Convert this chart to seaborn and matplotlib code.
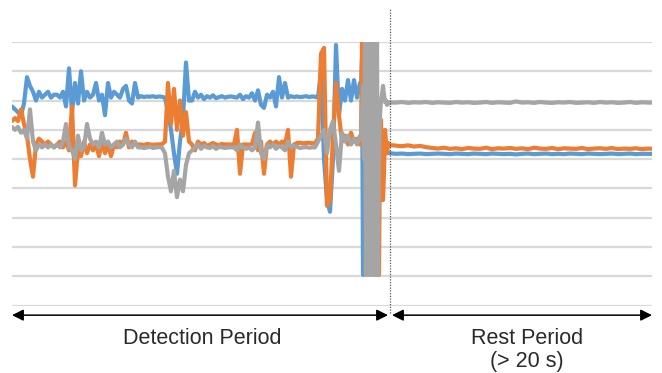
import numpy as np
import pandas as pd
import matplotlib
matplotlib.use("Agg")
import matplotlib.pyplot as plt
import seaborn as sns

# time axis (arbitrary sample units), detection period is sampled coarser than the burst
t_detect = np.arange(12, 361, 3)
t_burst = np.arange(361, 391, 1)
t_rest = np.arange(396, 655, 6)

# readings in grid units (gridlines at 0..9)
blue_detect = [
    6.8, 6.7, 6.6, 6.5, 6.9, 7.8, 7.5, 7.3, 7.0, 7.3,
    7.1, 7.2, 7.3, 7.1, 7.2, 7.2, 7.1, 7.3, 6.8, 8.1,
    6.6, 7.6, 6.9, 8.0, 7.0, 7.3, 7.1, 7.2, 7.6, 7.0,
    7.2, 6.5, 7.6, 7.1, 7.3, 7.2, 7.1, 7.4, 7.5, 7.0,
    6.9, 7.6, 7.1, 7.15, 7.12, 7.14, 7.13, 7.15, 7.12, 7.14,
    7.13, 7.1, 6.6, 6.0, 5.2, 4.5, 5.6, 6.4, 8.3, 7.0,
    7.0, 7.3, 7.1, 7.2, 7.05, 7.15, 7.1, 7.18, 7.08, 7.12,
    7.15, 7.1, 7.13, 7.14, 7.12, 7.1, 7.2, 7.05, 7.15, 7.1,
    7.25, 7.0, 7.35, 6.85, 6.75, 7.2, 7.1, 7.3, 6.8, 7.8,
    7.1, 7.6, 7.1, 7.15, 7.12, 7.14, 7.12, 7.13, 7.15, 7.12,
    7.14, 7.13, 7.1, 8.0, 5.0, 3.6, 3.2, 5.0, 8.9, 6.5,
    7.4, 7.0, 7.7, 7.0, 7.7, 7.1, 7.6,
]
orange_detect = [
    6.3, 6.4, 6.3, 6.7, 6.2, 5.8, 5.0, 4.4, 5.5, 5.7,
    5.6, 5.5, 5.6, 5.5, 5.4, 5.5, 5.6, 5.4, 5.6, 5.3,
    6.8, 4.1, 5.3, 5.1, 5.6, 5.2, 5.5, 5.3, 5.5, 5.1,
    5.6, 5.2, 5.5, 5.1, 5.5, 5.4, 5.6, 5.5, 5.9, 5.4,
    5.6, 5.5, 5.5, 5.5, 5.48, 5.52, 5.5, 5.49, 5.5, 5.5,
    5.51, 5.6, 7.6, 6.2, 7.4, 6.0, 7.0, 5.8, 6.6, 5.6,
    5.5, 5.3, 5.6, 5.5, 5.55, 5.45, 5.5, 5.55, 5.5, 5.48,
    5.52, 5.5, 5.5, 5.5, 5.5, 6.0, 4.5, 5.5, 5.5, 5.5,
    5.5, 5.9, 5.3, 5.6, 4.5, 5.5, 5.6, 5.5, 5.6, 5.5,
    5.6, 5.5, 6.0, 4.4, 5.5, 5.55, 5.56, 5.54, 5.55, 5.56,
    5.54, 5.55, 5.7, 8.6, 8.8, 3.4, 3.6, 5.8, 7.6, 6.5,
    5.6, 5.8, 5.5, 5.9, 5.6, 5.7, 5.5,
]
gray_detect = [
    6.1, 6.0, 6.1, 5.9, 6.0, 5.7, 6.7, 5.6, 5.3, 5.5,
    5.4, 5.5, 5.4, 5.5, 5.4, 5.5, 5.4, 5.6, 6.2, 5.4,
    5.3, 5.0, 5.8, 5.3, 5.4, 6.2, 5.7, 5.5, 5.6, 5.4,
    5.9, 5.5, 5.6, 5.4, 5.5, 5.6, 5.4, 5.5, 5.7, 5.5,
    5.4, 5.6, 5.4, 5.4, 5.38, 5.4, 5.42, 5.38, 5.4, 5.41,
    5.39, 5.2, 4.4, 3.9, 4.6, 3.7, 4.3, 3.9, 4.8, 5.2,
    5.3, 5.4, 5.5, 5.35, 5.45, 5.4, 5.38, 5.45, 5.35, 5.42,
    5.4, 5.38, 5.4, 5.4, 5.4, 5.3, 5.5, 5.4, 5.35, 5.4,
    5.3, 5.4, 6.25, 5.2, 5.0, 5.5, 5.4, 5.5, 5.35, 5.45,
    5.4, 5.3, 5.6, 5.4, 5.45, 5.42, 5.38, 5.4, 5.41, 5.39,
    5.4, 5.4, 5.6, 5.8, 6.0, 5.2, 6.0, 6.3, 5.5, 4.6,
    5.9, 5.6, 5.8, 5.5, 5.7, 5.5, 5.8,
]

blue_burst = [
    7.5, 8.4, 1.05, 1.05, 6.0, 7.0, 5.5, 6.5, 6.0, 7.0,
    5.5, 6.5, 6.0, 6.5, 5.5, 6.0, 5.8, 5.6, 5.5, 5.5,
    5.4, 5.4, 5.3, 5.2, 5.25, 5.3, 5.25, 5.2, 5.22, 5.2,
]
orange_burst = [
    5.6, 9.0, 9.0, 8.0, 6.0, 7.0, 5.0, 6.0, 4.0, 6.5,
    3.0, 5.0, 2.0, 4.0, 1.05, 1.05, 3.0, 1.05, 1.05, 5.5,
    6.34, 4.5, 3.6, 4.5, 6.0, 5.6, 5.2, 5.55, 5.45, 5.48,
]
gray_burst = [
    5.7, 6.5, 7.5, 5.0, 9.0, 1.05, 9.0, 1.05, 9.0, 1.05,
    9.0, 1.05, 9.0, 1.05, 9.0, 1.05, 9.0, 1.05, 5.0, 6.5,
    7.0, 7.2, 7.5, 7.2, 6.95, 7.0, 6.85, 6.95, 6.9, 6.93,
]

blue_rest = [
    5.18, 5.19, 5.17, 5.18, 5.19, 5.17, 5.18, 5.19, 5.18, 5.17,
    5.19, 5.18, 5.17, 5.19, 5.18, 5.17, 5.19, 5.18, 5.17, 5.18,
    5.16, 5.18, 5.19, 5.17, 5.18, 5.19, 5.17, 5.18, 5.17, 5.19,
    5.18, 5.17, 5.19, 5.18, 5.17, 5.18, 5.19, 5.17, 5.18, 5.19,
    5.17, 5.18, 5.18, 5.18,
]
orange_rest = [
    5.46, 5.44, 5.47, 5.43, 5.45, 5.41, 5.38, 5.36, 5.39, 5.35,
    5.37, 5.34, 5.38, 5.36, 5.35, 5.39, 5.34, 5.37, 5.36, 5.38,
    5.35, 5.37, 5.34, 5.39, 5.36, 5.35, 5.38, 5.34, 5.37, 5.36,
    5.35, 5.38, 5.34, 5.36, 5.37, 5.35, 5.38, 5.34, 5.36, 5.35,
    5.37, 5.34, 5.36, 5.35,
]
gray_rest = [
    6.93, 6.95, 6.92, 6.94, 6.93, 6.95, 6.92, 6.94, 6.93, 6.92,
    6.95, 6.93, 6.94, 6.92, 6.93, 6.95, 6.92, 6.94, 6.93, 6.92,
    6.97, 6.93, 6.94, 6.92, 6.95, 6.93, 6.92, 6.94, 6.93, 6.95,
    6.92, 6.93, 6.94, 6.92, 6.95, 6.93, 6.94, 6.92, 6.93, 6.95,
    6.92, 6.94, 6.93, 6.93,
]

series_names = ["s1", "s2", "s3"]
colors = ["#5B9BD5", "#ED7D31", "#A5A5A5"]

t_all = np.concatenate([t_detect, t_burst, t_rest])
frames = []
for name, d, b, r in zip(series_names,
                         [blue_detect, orange_detect, gray_detect],
                         [blue_burst, orange_burst, gray_burst],
                         [blue_rest, orange_rest, gray_rest]):
    vals = list(d) + list(b) + list(r)
    frames.append(pd.DataFrame({"t": t_all, "value": vals, "series": name}))
df = pd.concat(frames, ignore_index=True)

sns.set_style("white")
plt.rcParams['font.family'] = ['Liberation Sans', 'DejaVu Sans']

fig = plt.figure(figsize=(6.62, 3.73), dpi=100)
ax = fig.add_axes([12 / 662, 1 - 305.5 / 373, 640 / 662, 263.5 / 373])

# gridlines
for g in range(10):
    ax.axhline(g, color="#d9d9d9", lw=1.6, zorder=0)

sns.lineplot(data=df, x="t", y="value", hue="series", palette=colors,
             hue_order=series_names, sort=False, estimator=None,
             lw=3.0, legend=False, ax=ax)

ax.set_xlim(12, 652)
ax.set_ylim(0, 9)
ax.set_xticks([])
ax.set_yticks([])
ax.set_xlabel("")
ax.set_ylabel("")
for s in ax.spines.values():
    s.set_visible(False)

# boundary between periods
ax.plot([390, 390], [-0.27, 10.17], ls=(0, (1, 1.2)), color="#555555",
        lw=0.9, clip_on=False, zorder=5)

# period arrows
arrow_y = -0.33
for x0, x1 in [(12, 388), (392, 652)]:
    ax.annotate("", xy=(x0, arrow_y), xytext=(x1, arrow_y),
                xycoords="data", annotation_clip=False,
                arrowprops=dict(arrowstyle="<|-|>", color="black", lw=1.1,
                                mutation_scale=17, shrinkA=0, shrinkB=0))

label_kw = dict(ha="center", va="baseline", fontsize=15.5, color="#2a2a2a")
ax.text(202, -1.33, "Detection Period", **label_kw)
ax.text(527, -1.33, "Rest Period", **label_kw)
ax.text(527, -2.1, "(> 20 s)", **label_kw)

fig.savefig("out.png", dpi=100)
